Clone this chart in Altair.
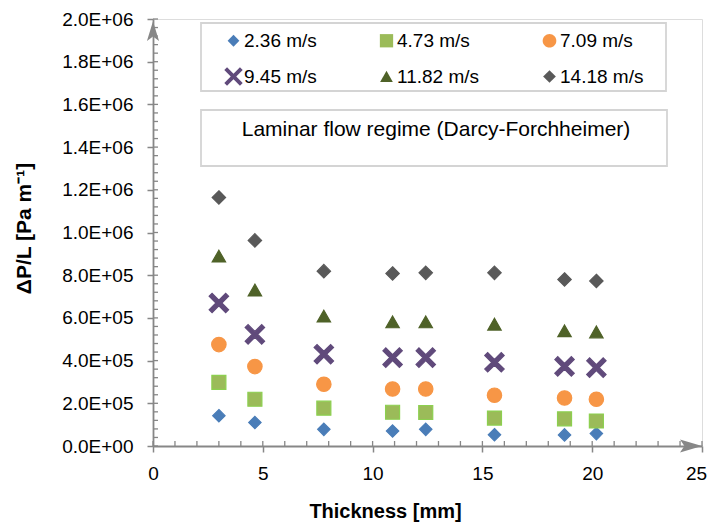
import altair as alt
import pandas as pd

# ---------------- data ----------------
thickness = [3.00, 4.64, 7.78, 10.91, 12.42, 15.55, 18.74, 20.19]
series_names = ["2.36 m/s", "4.73 m/s", "7.09 m/s", "9.45 m/s", "11.82 m/s", "14.18 m/s"]
v_236 = [142000, 110000, 78000, 70000, 78000, 53000, 52000, 58000]
v_473 = [298000, 219000, 177000, 158000, 157000, 131000, 127000, 117000]
v_709 = [475000, 372000, 289000, 267000, 267000, 238000, 225000, 219000]
v_945 = [670000, 523000, 430000, 414000, 414000, 392000, 373000, 367000]
v_1182 = [889000, 730000, 608000, 581000, 581000, 570000, 539000, 534000]
v_1418 = [1164000, 963000, 819000, 808000, 811000, 811000, 780000, 773000]

x_ticks = [0, 5, 10, 15, 20, 25]
y_ticks = [0, 200000, 400000, 600000, 800000, 1000000, 1200000, 1400000,
           1600000, 1800000, 2000000]
x_minor = list(range(0, 26))
y_minor = [i * 40000 for i in range(51)]

annot_text = "Laminar flow regime (Darcy-Forchheimer)"

# ---------------- styles ----------------
colors = ["#4A7DB8", "#9BBB59", "#F79646", "#604A7B", "#4F6228", "#595959"]
strokes = ["#4A7DB8", "#8CD04F", "#F79646", "#604A7B", "#4F6228", "#595959"]
shapes = [
    "M0,-0.62L0.62,0L0,0.62L-0.62,0Z",                       # diamond
    "M-0.7,-0.7L0.7,-0.7L0.7,0.7L-0.7,0.7Z",                 # square
    "M0.72,0A0.72,0.72 0 1,1 -0.72,0A0.72,0.72 0 1,1 0.72,0Z",  # circle
    "M-0.97,-0.68L-0.68,-0.97L0,-0.29L0.68,-0.97L0.97,-0.68L0.29,0L0.97,0.68L0.68,0.97L0,0.29L-0.68,0.97L-0.97,0.68L-0.29,0Z",  # x
    "M0,-0.6L0.67,0.58L-0.67,0.58Z",                          # triangle
    "M0,-0.67L0.67,0L0,0.67L-0.67,0Z",                        # diamond
]
grey = "#878787"
FONT = "Liberation Sans"

values = [v_236, v_473, v_709, v_945, v_1182, v_1418]
rows = []
for name, vals in zip(series_names, values):
    for t, v in zip(thickness, vals):
        rows.append({"t": t, "v": v, "s": name})
df = pd.DataFrame(rows)

W, H = 549, 427

xscale = alt.Scale(domain=[x_ticks[0], x_ticks[-1]], nice=False, zero=False)
yscale = alt.Scale(domain=[y_ticks[0], y_ticks[-1]], nice=False)

exp_ = "floor(log(datum.value)/LN10 + 1e-9)"
ylabel = ("datum.value == 0 ? '0.0E+00' : format(datum.value / pow(10, " + exp_ +
          "), '.1f') + 'E+' + (" + exp_ + " < 10 ? '0' : '') + " + exp_)

xaxis = alt.Axis(values=x_ticks, format="d", title="Thickness [mm]",
                 titleFont=FONT, titleFontSize=20, titleFontWeight="bold",
                 titleColor="black", titleX=232, titleY=71,
                 titleBaseline="alphabetic", titleAlign="center",
                 labelFont=FONT, labelFontSize=19, labelColor="black",
                 labelPadding=12, labelFlush=False, labelOverlap=False,
                 labelOffset={"condition": {"test": "datum.value == 25", "value": -6},
                              "value": 0},
                 tickSize=6, tickWidth=1.5, tickColor=grey,
                 domainColor=grey, domainWidth=1.8, grid=False)
yaxis = alt.Axis(values=y_ticks, labelExpr=ylabel, title="ΔP/L [Pa m⁻¹]",
                 titleFont=FONT, titleFontSize=21, titleFontWeight="bold",
                 titleColor="black", titleX=-129, titleY=209, titleAngle=270,
                 titleAlign="center", titleBaseline="middle",
                 labelFont=FONT, labelFontSize=19, labelColor="black",
                 labelPadding=14, labelFlush=False, labelOverlap=False,
                 tickSize=6, tickWidth=1.5, tickColor=grey,
                 domainColor=grey, domainWidth=1.8, grid=False)


def X(field="t"):
    return alt.X(field, type="quantitative", scale=xscale, axis=xaxis)


def Y(field="v"):
    return alt.Y(field, type="quantitative", scale=yscale, axis=yaxis)


leg = alt.Legend(title=None, orient="none", legendX=71, legendY=12, columns=3,
                 direction="horizontal",
                 columnPadding=60, rowPadding=16, labelFont=FONT,
                 labelFontSize=19, labelColor="black", labelOffset=1,
                 symbolSize=360, padding=0, symbolStrokeWidth=0)

one = alt.Data(values=[{}])

legend_box = alt.Chart(one).mark_rect(
    fill="white", stroke="#D4D4D4", strokeWidth=1.8
).encode(x=alt.value(48), x2=alt.value(513), y=alt.value(4), y2=alt.value(72))

annot_box = alt.Chart(one).mark_rect(
    fill="white", stroke="#D4D4D4", strokeWidth=1.8
).encode(x=alt.value(48), x2=alt.value(514), y=alt.value(91), y2=alt.value(147))

annot = alt.Chart(one).mark_text(
    text=annot_text, font=FONT, fontSize=21, color="black",
    align="center", baseline="alphabetic"
).encode(x=alt.value(283), y=alt.value(117))

y_in = alt.Chart(pd.DataFrame({"v": y_minor})).mark_rule(
    color=grey, strokeWidth=1.3
).encode(y=Y(), x=alt.value(0), x2=alt.value(5))

x_in = alt.Chart(pd.DataFrame({"t": x_minor})).mark_rule(
    color=grey, strokeWidth=1.3
).encode(x=X(), y=alt.value(H), y2=alt.value(H - 5))

points = alt.Chart(df).mark_point(filled=True, opacity=1, size=400, strokeWidth=1.2).encode(
    x=X(), y=Y(),
    color=alt.Color("s:N", scale=alt.Scale(domain=series_names, range=colors), legend=leg),
    shape=alt.Shape("s:N", scale=alt.Scale(domain=series_names, range=shapes), legend=leg),
    stroke=alt.Stroke("s:N", scale=alt.Scale(domain=series_names, range=strokes), legend=None),
)

y_arrow = alt.Chart(pd.DataFrame({"t": [x_ticks[0]], "v": [y_ticks[-1]]})).mark_point(
    shape="M0,0.2L0.55,2L0,1.6L-0.55,2Z", filled=True, size=484, color=grey, opacity=1
).encode(x=X(), y=Y())

x_arrow = alt.Chart(pd.DataFrame({"t": [x_ticks[-1]], "v": [y_ticks[0]]})).mark_point(
    shape="M0,0L-2,-0.6L-1.6,0L-2,0.6Z", filled=True, size=484, color=grey, opacity=1
).encode(x=X(), y=Y())

chart = alt.layer(
    legend_box, annot_box, annot, y_in, x_in, points, y_arrow, x_arrow
).properties(
    width=W, height=H,
    padding={"left": 145, "top": 11, "right": 6, "bottom": 76},
    autosize=alt.AutoSizeParams(type="none"),
).configure_view(stroke=None).configure(background="white")

chart.save("out.html", embed_options={"renderer": "svg", "actions": False})
